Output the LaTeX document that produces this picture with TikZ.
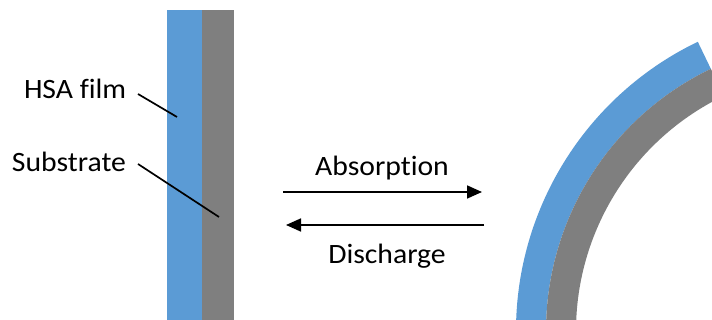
\documentclass[tikz,border=0pt]{standalone}
\usepackage{fontspec}
\setmainfont[Ligatures=NoCommon]{Carlito}
\usetikzlibrary{arrows.meta}
\definecolor{hsablue}{RGB}{91,155,213}
\definecolor{subgray}{RGB}{127,127,127}
\tikzset{
  lbl/.style={inner sep=0pt, outer sep=0pt, font=\fontsize{28}{32}\selectfont},
  leader/.style={line width=1.7pt, black},
  flow/.style={line width=1.7pt, black, -{Triangle[length=15pt,width=13pt]}},
}
\newcommand{\wide}[1]{\scalebox{1.06}[1]{#1}}
\begin{document}
\begin{tikzpicture}[x=1pt,y=1pt]
\useasboundingbox (0,0) rectangle (712,320);
\clip (0,0) rectangle (712,320);
% flat strip
\fill[hsablue] (167,-2) rectangle (202,310);
\fill[subgray] (202,-2) rectangle (234,310);
% bent strip
\fill[hsablue] (837,-11) ++(115.7:321) arc[start angle=115.7,end angle=185,radius=321]
  -- ++(5:30) arc[start angle=185,end angle=115.7,radius=291] -- cycle;
\fill[subgray] (837,-11) ++(115.7:291) arc[start angle=115.7,end angle=185,radius=291]
  -- ++(5:30) arc[start angle=185,end angle=115.7,radius=261] -- cycle;
% labels
\node[lbl, anchor=base west] (hsa) at (24,221) {\wide{HSA film}};
\node[lbl, anchor=base west] (sub) at (12,148) {\wide{Substrate}};
\coordinate (hsaA) at (138,226);
\coordinate (hsaB) at (177,203);
\coordinate (subA) at (138,156);
\coordinate (subB) at (219,103);
\draw[leader] (hsaA) -- (hsaB);
\draw[leader] (subA) -- (subB);
% arrows
\node[lbl, anchor=base] (abs) at (382,144) {\wide{Absorption}};
\node[lbl, anchor=base] (dis) at (387,56) {\wide{Discharge}};
\coordinate (a1) at (283,128);
\coordinate (a2) at (482,128);
\coordinate (d1) at (484,95);
\coordinate (d2) at (286,95);
\draw[flow] (a1) -- (a2);
\draw[flow] (d1) -- (d2);
\end{tikzpicture}
\end{document}
